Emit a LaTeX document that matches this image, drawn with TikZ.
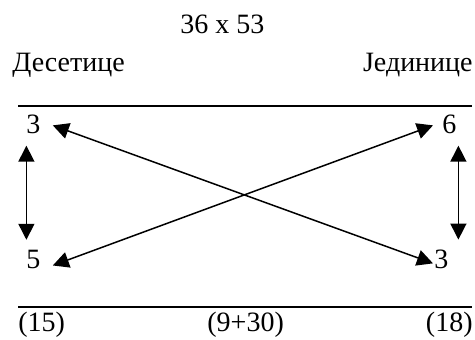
\documentclass[tikz,border=0pt]{standalone}
\usepackage{fontspec}
\setmainfont{Liberation Serif}
\usetikzlibrary{arrows.meta, positioning}

\begin{document}
\begin{tikzpicture}[
  x=0.5pt, y=-0.5pt,
  txt/.style={inner sep=0pt, font=\fontsize{14}{16}\selectfont},
  num/.style={txt, anchor=base west},
  arr/.style={{Triangle[length=8pt, width=8pt]}-{Triangle[length=8pt, width=8pt]}, line width=0.75pt},
  rule/.style={line width=0.6pt},
]
  \useasboundingbox (0,0) rectangle (475,339);

  % Heading
  \node[txt, anchor=base west] (title) at (180,33) {36 x 53};
  \node[txt, anchor=base west] (tens)  at (12,71)  {Десетице};
  \node[txt, anchor=base east] (units) at (473,71) {Јединице};

  % Rules
  \coordinate (ra) at (18,106);  \coordinate (rb) at (472,106);
  \coordinate (rc) at (18,307);  \coordinate (rd) at (472,307);
  \draw[rule] (ra) -- (rb);
  \draw[rule] (rc) -- (rd);

  % Digits
  \node[num] (tl) at (26,133)  {3};
  \node[num] (bl) at (26,268)  {5};
  \node[num] (tr) at (442,133) {6};
  \node[num] (br) at (434,268) {3};

  % Cross arrows
  \draw[arr] ([xshift=6pt, yshift=-0.75pt]tl.east) -- ([xshift=-0.5pt, yshift=-2.25pt]br.west);
  \draw[arr] ([xshift=6pt, yshift=-3.25pt]bl.east) -- ([xshift=-4.5pt, yshift=-0.75pt]tr.west);

  % Vertical arrows
  \draw[arr] ([xshift=-3.5pt, yshift=-6pt]tl.south) -- ([xshift=-3.5pt, yshift=4.75pt]bl.north);
  \draw[arr] ([xshift=4.5pt, yshift=-6pt]tr.south) -- ([xshift=8.5pt, yshift=4.75pt]br.north);

  % Results
  \node[num] (rl) at (18,331)  {(15)};
  \node[num] (rm) at (207,331) {(9+30)};
  \node[txt, anchor=base east] (rr) at (473,331) {(18)};
\end{tikzpicture}
\end{document}
